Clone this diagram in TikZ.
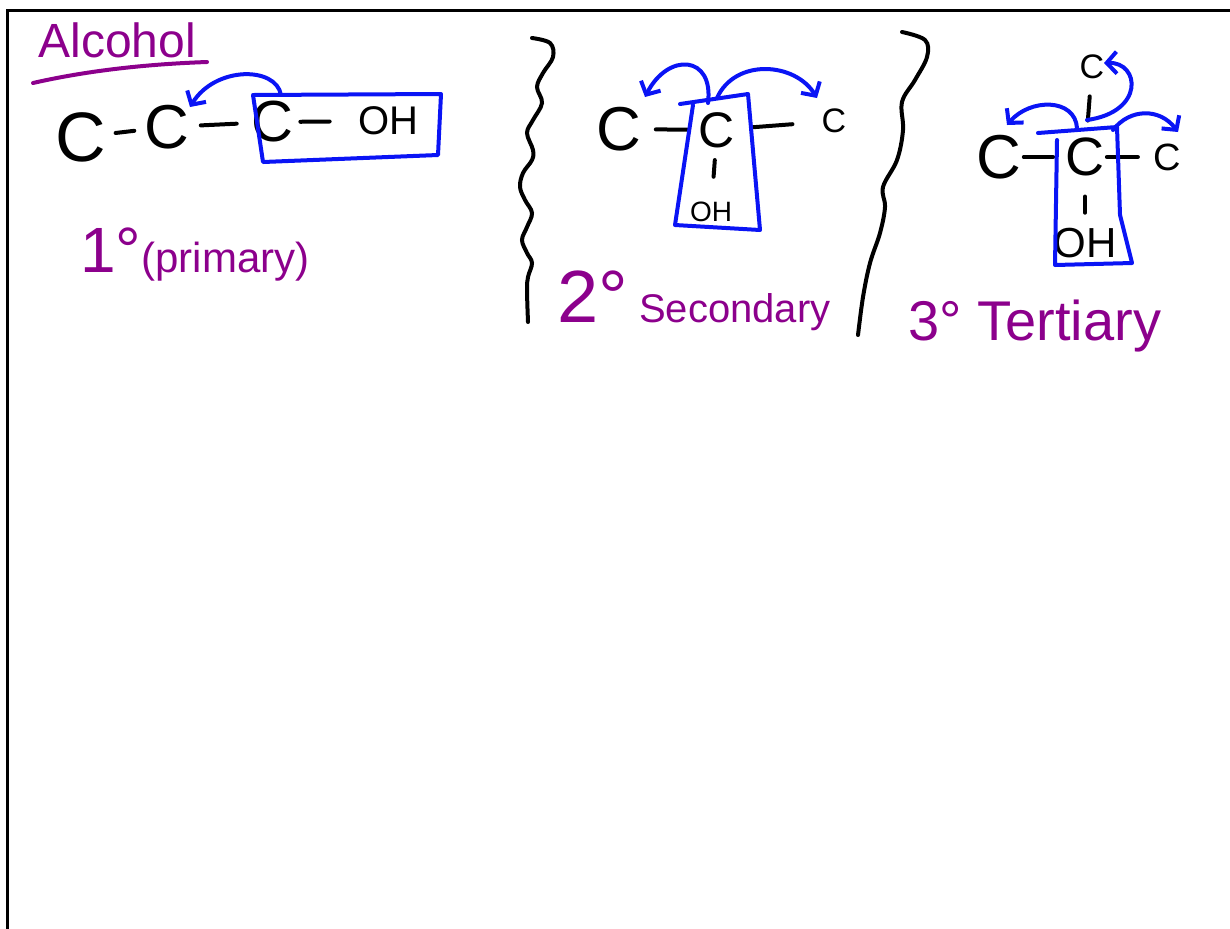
\documentclass[tikz,border=0pt]{standalone}
\usepackage{fontspec}
\setmainfont{Liberation Sans}
\usetikzlibrary{arrows, arrows.meta}
\usetikzlibrary{calc}
\definecolor{inkpurple}{RGB}{140,0,140}
\definecolor{inkblue}{RGB}{10,20,245}

\begin{document}
\begin{tikzpicture}[x=0.5pt, y=-0.5pt,
    atom/.style={inner sep=0pt, font=\fontsize{30}{30}\selectfont},
    bond/.style={line width=2pt, line cap=round},
    note/.style={inkpurple, inner sep=0pt, anchor=base west},
    hilite/.style={inkblue, line width=2pt, line join=round, line cap=round},
    curl/.style={inkblue, line width=2pt, line cap=round, -{Straight Barb[length=5pt,width=11pt]}},
    brace/.style={line width=2pt, line cap=round},
  ]
      \useasboundingbox (0,0) rectangle (1230,928);
      \draw[line width=1.5pt] (7,960) -- (7,10) -- (1260,10);

      % primary
      \node[note, font=\fontsize{24}{24}\selectfont] (alc) at (38,57) {Alcohol};
      \draw[inkpurple, line width=2pt, line cap=round] (33,83) .. controls (90,70) and (150,64) .. (207,62);

      \node[atom, font=\fontsize{35}{35}\selectfont] (c1a) at (81,137) {C};
      \node[atom, font=\fontsize{31}{31}\selectfont] (c1b) at (167,127) {C};
      \node[atom, font=\fontsize{29}{29}\selectfont] (c1c) at (272,122) {C};
      \node[atom, font=\fontsize{20}{20}\selectfont] (oh1) at (388,121) {OH};
      \draw[bond, shorten <=4.5pt, shorten >=5pt] (c1a) -- (c1b);
      \draw[bond, shorten <=5.5pt, shorten >=7pt] (c1b) -- (c1c);
      \draw[bond, shorten <=3.5pt, shorten >=14pt] (c1c) -- (oh1);

      \draw[hilite] (253,95) -- (441,94) -- (438,155) -- (263,162) -- cycle;
      \coordinate (s1) at (281,95);
      \coordinate (e1) at (190,107);
      \draw[curl] (s1) .. controls (276,66) and (215,66) .. (e1);

      \node[note, font=\fontsize{21}{21}\selectfont] (deg1) at (80,272) {{\fontsize{32}{32}\selectfont 1°}(primary)};

      % secondary
      \draw[brace] plot[smooth, tension=0.6] coordinates {(532,38) (550,43) (553,57) (543,73) (537,87) (542,103) (533,120) (527,133) (533,150) (532,160) (523,173) (520,187) (525,200) (532,213) (527,227) (522,240) (527,253) (532,263) (528,277) (527,290) (528,322)};

      \node[atom, font=\fontsize{31}{31}\selectfont] (c2l) at (619,129) {C};
      \node[atom, font=\fontsize{25}{25}\selectfont] (c2m) at (717,130) {C};
      \node[atom, font=\fontsize{17}{17}\selectfont] (c2r) at (834,121) {C};
      \node[atom, font=\fontsize{14}{14}\selectfont] (oh2) at (711,212) {OH};
      \draw[bond, shorten <=7pt, shorten >=5.5pt] (c2l) -- (c2m);
      \draw[bond, shorten <=9pt, shorten >=14.5pt] (c2m) -- (c2r);
      \draw[bond, shorten <=6pt, shorten >=12.5pt] (c2m) -- (oh2);

      \draw[hilite] (680,104) -- (748,94) -- (760,230) -- (675,225) -- (693,105);
      \coordinate (s2l) at (708,103);
      \coordinate (e2l) at (645,97);
      \coordinate (s2r) at (717,98);
      \coordinate (e2r) at (817,98);
      \draw[curl] (s2l) .. controls (714,55) and (668,52) .. (e2l);
      \draw[curl] (s2r) .. controls (735,58) and (795,62) .. (e2r);

      \node[note, font=\fontsize{20}{20}\selectfont] (deg2) at (557,322) {{\fontsize{37}{37}\selectfont 2°} Secondary};

      % tertiary
      \draw[brace] plot[smooth, tension=0.6] coordinates {(902,32) (925,40) (927,57) (915,80) (902,102) (903,130) (897,160) (883,187) (885,207) (880,233) (870,263) (863,297) (858,335)};

      \node[atom, font=\fontsize{31}{31}\selectfont] (c3l) at (999,157) {C};
      \node[atom, font=\fontsize{27}{27}\selectfont] (c3m) at (1085,157) {C};
      \node[atom, font=\fontsize{19}{19}\selectfont] (c3r) at (1167,157) {C};
      \node[atom, font=\fontsize{17}{17}\selectfont] (c3t) at (1092,67) {C};
      \node[atom, font=\fontsize{21}{21}\selectfont] (oh3) at (1085,243) {OH};
      \draw[bond, shorten <=1pt, shorten >=6pt] (c3l) -- (c3m);
      \draw[bond, shorten <=1pt, shorten >=7.5pt] (c3m) -- (c3r);
      \draw[bond, shorten <=8.5pt, shorten >=8.5pt] (c3t) -- (c3m);
      \draw[bond, shorten <=10pt, shorten >=7.5pt] (c3m) -- (oh3);

      \draw[hilite] (1038,133) -- (1117,127) -- (1120,215) -- (1132,263) -- (1055,265) -- (1057,140);
      \coordinate (s3l) at (1077,128);
      \coordinate (e3l) at (1007,125);
      \coordinate (s3t) at (1087,120);
      \coordinate (e3t) at (1104,63);
      \coordinate (s3r) at (1113,130);
      \coordinate (e3r) at (1178,132);
      \draw[curl] (s3l) .. controls (1075,98) and (1030,98) .. (e3l);
      \draw[curl] (s3t) .. controls (1145,112) and (1140,62) .. (e3t);
      \draw[curl] (s3r) .. controls (1130,108) and (1160,108) .. (e3r);

      \node[note, font=\fontsize{28}{28}\selectfont] (deg3) at (908,340) {3° Tertiary};
\end{tikzpicture}
\end{document}
